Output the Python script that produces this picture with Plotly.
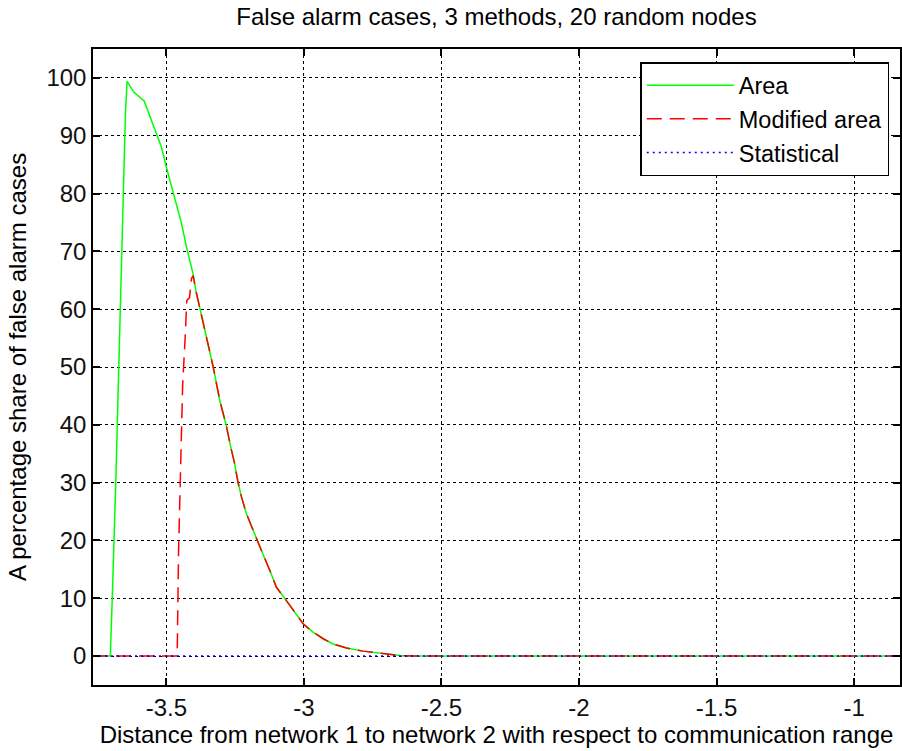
import plotly.graph_objects as go

# ---- data ----
area_x = [-3.767, -3.704, -3.697, -3.690, -3.683, -3.676, -3.669, -3.662, -3.655, -3.649, -3.643,
          -3.618, -3.581, -3.567, -3.542, -3.518, -3.500, -3.482, -3.464, -3.445, -3.427, -3.403,
          -3.393, -3.379, -3.330, -3.306, -3.282, -3.266, -3.252, -3.240, -3.227, -3.209, -3.191,
          -3.173, -3.155, -3.124, -3.100, -3.064, -3.039, -3.003, -2.967, -2.930, -2.894, -2.845,
          -2.785, -2.712, -2.651, -2.600, -0.800]
area_y = [0, 0, 10, 20, 32, 45, 58, 72, 83, 94, 99.4,
          97.5, 96.0, 94.3, 91.2, 88.0, 84.5, 81.4, 78.2, 74.8, 70.7, 66.1,
          63.2, 60.3, 50.0, 44.2, 39.8, 36.1, 33.3, 30.1, 27.5, 24.6, 22.6,
          20.3, 18.3, 14.8, 11.9, 9.6, 7.9, 5.6, 4.15, 3.0, 2.1, 1.4,
          0.86, 0.5, 0.1, 0, 0]

mod_x = [-3.767, -3.461, -3.456, -3.449, -3.445, -3.441, -3.432, -3.426, -3.416, -3.409, -3.403,
         -3.393, -3.379, -3.330, -3.306, -3.282, -3.266, -3.252, -3.240, -3.227, -3.209, -3.191,
         -3.173, -3.155, -3.124, -3.100, -3.064, -3.039, -3.003, -2.967, -2.930, -2.894, -2.845,
         -2.785, -2.712, -2.651, -2.600, -0.800]
mod_y = [0, 0, 18, 30, 39, 47, 55, 61.5, 62, 65.3, 65.8,
         63.2, 60.3, 50.0, 44.2, 39.8, 36.1, 33.3, 30.1, 27.5, 24.6, 22.6,
         20.3, 18.3, 14.8, 11.9, 9.6, 7.9, 5.6, 4.15, 3.0, 2.1, 1.4,
         0.86, 0.5, 0.1, 0, 0]

stat_x = [-3.767, -3.0, -2.0, -1.0, -0.800]
stat_y = [0, 0, 0, 0, 0]

x_ticks = [-3.5, -3, -2.5, -2, -1.5, -1]
x_tick_labels = ["-3.5", "-3", "-2.5", "-2", "-1.5", "-1"]
y_ticks = [0, 10, 20, 30, 40, 50, 60, 70, 80, 90, 100]

FONT = "Liberation Sans"
FS = 24

fig = go.Figure()
fig.add_trace(go.Scatter(x=area_x, y=area_y, mode="lines", name="Area",
                         line=dict(color="#00FF00", width=1.5), legendgroup="a"))
fig.add_trace(go.Scatter(x=mod_x, y=mod_y, mode="lines", name="Modified area",
                         line=dict(color="#FF0000", width=1.5, dash="15px,8px"), legendgroup="b"))
fig.add_trace(go.Scatter(x=stat_x, y=stat_y, mode="lines", name="Statistical",
                         line=dict(color="#0000FF", width=1.5, dash="2px,4px"), legendgroup="c"))

axis_common = dict(
    showline=True, linecolor="black", linewidth=1.5, mirror="allticks",
    ticks="inside", ticklen=7, tickwidth=1.5, tickcolor="black",
    showgrid=True, gridcolor="black", gridwidth=1, griddash="dot",
    zeroline=False, automargin=False,
    tickfont=dict(family=FONT, size=FS, color="#111111"),
)

fig.update_layout(
    template="none",
    width=902, height=751,
    margin=dict(l=93, r=2, t=49, b=66),
    paper_bgcolor="white", plot_bgcolor="white",
    title=dict(text="False alarm cases, 3 methods, 20 random nodes",
               x=(93 + 900) / 2 / 902, xanchor="center",
               y=1 - 17 / 751, yanchor="middle", yref="container",
               font=dict(family=FONT, size=FS, color="black")),
    xaxis=dict(range=[-3.767, -0.833], tickvals=x_ticks, ticktext=x_tick_labels,
               title=dict(text="Distance from network 1 to network 2 with respect to communication range",
                          font=dict(family=FONT, size=FS, color="black"), standoff=4),
               **axis_common),
    yaxis=dict(range=[-5, 105], tickvals=y_ticks,
               title=dict(text="A percentage share of false alarm cases",
                          font=dict(family=FONT, size=FS, color="black"), standoff=13),
               **axis_common),
    legend=dict(x=890 / 902, xanchor="right", xref="paper",
                y=1 - (62 - 49) / 636, yanchor="top",
                bgcolor="white", bordercolor="black", borderwidth=1.5,
                font=dict(family=FONT, size=FS - 0.5, color="black"),
                traceorder="grouped", tracegroupgap=0, itemwidth=87),
    showlegend=True,
)

fig.write_html("out.html")
